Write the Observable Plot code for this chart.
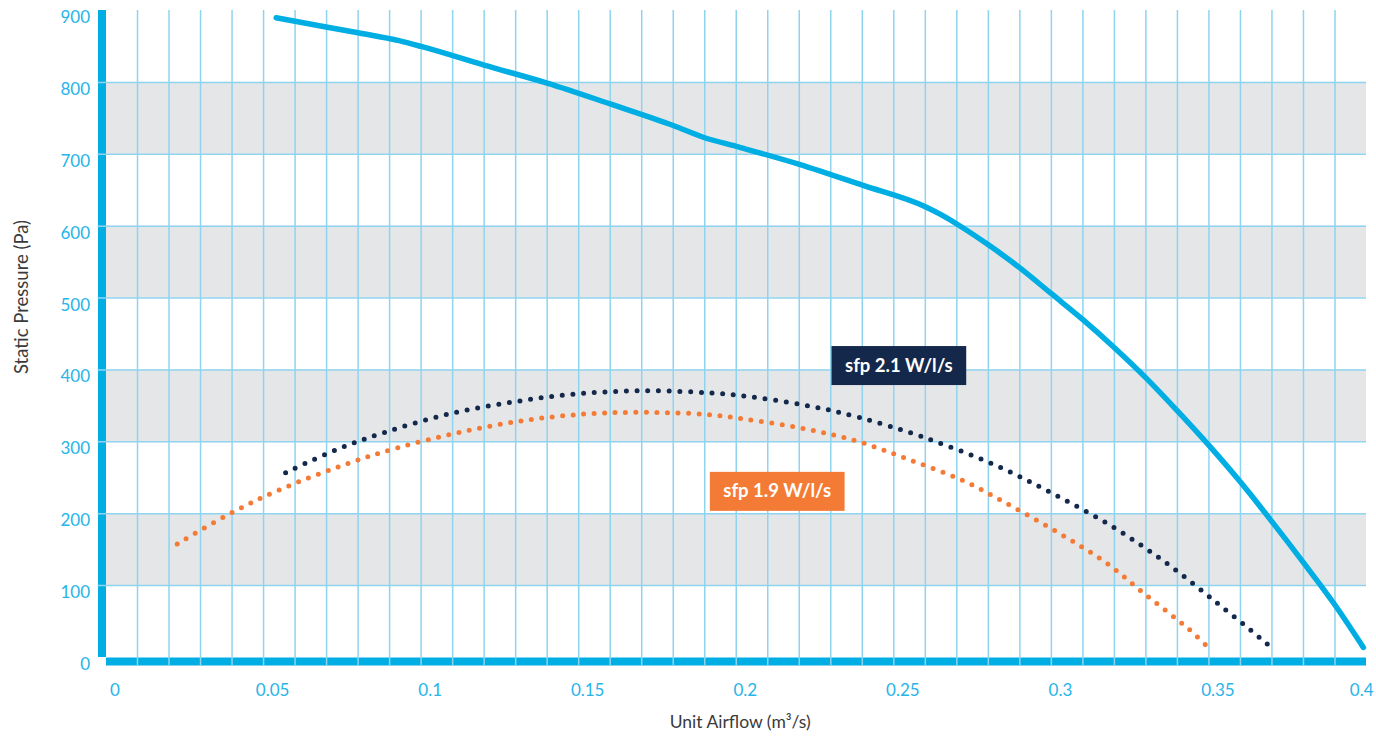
<!DOCTYPE html>
<html>
<head>
<meta charset="utf-8">
<script src="https://cdn.jsdelivr.net/npm/d3@7"></script>
<script src="https://cdn.jsdelivr.net/npm/@observablehq/plot@0.6"></script>
<style>
  html, body { margin: 0; padding: 0; background: #ffffff; }
  svg { display: block; }
</style>
</head>
<body>
<script>
// ---------- data ----------
const xTickValues = [0, 0.05, 0.1, 0.15, 0.2, 0.25, 0.3, 0.35, 0.4];
const yTickValues = [0, 100, 200, 300, 400, 500, 600, 700, 800, 900];
const xGridValues = [0.01,0.02,0.03,0.04,0.05,0.06,0.07,0.08,0.09,0.1,0.11,0.12,0.13,0.14,0.15,0.16,0.17,0.18,0.19,0.2,
                     0.21,0.22,0.23,0.24,0.25,0.26,0.27,0.28,0.29,0.3,0.31,0.32,0.33,0.34,0.35,0.36,0.37,0.38,0.39];
const yGridValues = [100, 200, 300, 400, 500, 600, 700, 800];
const shadedBandStarts = [100, 300, 500, 700];

// fan curve (static pressure vs airflow)
const fanAirflow  = [0.054,0.06,0.08,0.093,0.1,0.12,0.14,0.16,0.18,0.19,0.2,0.22,0.24,0.26,0.265,0.27,0.28,0.29,0.3,0.31,0.32,0.33,0.34,0.35,0.36,0.37,0.38,0.39,0.399];
const fanPressure = [890,885,869,858,850,824,799,770,740,723,711,686,657,627,616,603,574,542,506,470,431,389,343,295,244,189,132,73,14];

// sfp 2.1 W/l/s curve
const sfp21Airflow  = [0.057,0.073,0.089,0.109,0.13,0.15,0.171,0.192,0.202,0.223,0.239,0.259,0.282,0.3,0.319,0.336,0.352,0.366,0.37];
const sfp21Pressure = [257,289,314,339,356,367,371,368,364,350,334,307,268,229,183,133,78,28,13];

// sfp 1.9 W/l/s curve
const sfp19Airflow  = [0.0226,0.0406,0.056,0.0755,0.092,0.112,0.133,0.153,0.171,0.191,0.202,0.222,0.239,0.255,0.272,0.283,0.302,0.317,0.33,0.344,0.35];
const sfp19Pressure = [158,203,235,268,291,313,330,339,341,338,332,318,300,275,246,221,174,133,87,38,13];

const annotationTexts   = ["sfp 2.1 W/l/s", "sfp 1.9 W/l/s"];
const annotationAirflow = [0.2516, 0.213];
const annotationPress   = [406, 231];

// ---------- build tables ----------
const fan   = fanAirflow.map((x, i) => ({x, y: fanPressure[i]}));
const sfp21 = sfp21Airflow.map((x, i) => ({x, y: sfp21Pressure[i]}));
const sfp19 = sfp19Airflow.map((x, i) => ({x, y: sfp19Pressure[i]}));
const annotations = annotationTexts.map((t, i) => ({t, x: annotationAirflow[i], y: annotationPress[i]}));

const BLUE = "#00aee3";
const NAVY = "#14284b";
const ORANGE = "#f47b36";
const GRID = "#8fd4ef";
const TICK = "#27b4e8";
const BAND = "#e5e6e8";
const TITLE = "#3a3a3a";
const FONT = "Lato, 'Open Sans', sans-serif";
const boxColors = [NAVY, ORANGE];

const chart = Plot.plot({
  width: 1376,
  height: 736,
  marginLeft: 105.5,
  marginRight: 10,
  marginTop: 10,
  marginBottom: 79,
  style: {fontFamily: FONT, color: TICK, background: "#ffffff", overflow: "visible"},
  x: {domain: [0, 0.4]},
  y: {domain: [0, 900]},
  marks: [
    Plot.rect(shadedBandStarts, {y1: d => d, y2: d => d + 100, fill: BAND}),
    Plot.ruleX([0], {stroke: BLUE, strokeWidth: 8, dx: -4}),
    Plot.ruleY([0], {stroke: BLUE, strokeWidth: 8, dy: 4, insetLeft: 0.5}),
    Plot.ruleY(yGridValues, {stroke: GRID, strokeWidth: 1.5, insetLeft: -8}),
    Plot.ruleX(xGridValues, {stroke: GRID, strokeWidth: 1.5, insetBottom: -8}),
    Plot.line(sfp19, {x: "x", y: "y", stroke: ORANGE, strokeWidth: 5, strokeDasharray: "0 10.5", strokeLinecap: "round", curve: "catmull-rom"}),
    Plot.line(sfp21, {x: "x", y: "y", stroke: NAVY, strokeWidth: 5, strokeDasharray: "0 10.7", strokeLinecap: "round", curve: "catmull-rom"}),
    Plot.line(fan, {x: "x", y: "y", stroke: BLUE, strokeWidth: 5.5, strokeLinecap: "round", strokeLinejoin: "round", curve: "monotone-x"}),
    Plot.axisY(yTickValues, {tickSize: 0, tickPadding: 16, dy: 7, fontSize: 17, fill: TICK, label: null, tickFormat: d => String(d)}),
    Plot.axisX(xTickValues.slice(0, -1), {tickSize: 0, tickPadding: 26, dx: 9, fontSize: 17, fill: TICK, label: null, tickFormat: d => String(d)}),
    Plot.text(xTickValues.slice(-1), {x: d => d, text: d => String(d), frameAnchor: "bottom", lineAnchor: "top", textAnchor: "end", dy: 26, dx: 7, fontSize: 17, fill: TICK}),
    Plot.text(["Static Pressure (Pa)"], {frameAnchor: "left", textAnchor: "middle", lineAnchor: "middle", rotate: -90, dx: -84, dy: -37, fontSize: 18.5, fill: TITLE}),
    Plot.text(["Unit Airflow (m³/s)"], {frameAnchor: "bottom", textAnchor: "middle", lineAnchor: "middle", dx: 4, dy: 65, fontSize: 17.5, fill: TITLE}),
    Plot.text(annotations, {x: "x", y: "y", text: "t", fill: "#ffffff", fontSize: 18.5, fontWeight: "bold"})
  ]
});

document.body.append(chart);

// backing boxes for the sfp labels
const svgNS = "http://www.w3.org/2000/svg";
chart.querySelectorAll("text").forEach(t => {
  const i = annotationTexts.indexOf(t.textContent);
  if (i < 0) return;
  const b = t.getBBox();
  const w = b.width + 27, h = 39;
  const r = document.createElementNS(svgNS, "rect");
  r.setAttribute("x", b.x + b.width / 2 - w / 2);
  r.setAttribute("y", b.y + b.height / 2 - h / 2 + 1);
  r.setAttribute("width", w);
  r.setAttribute("height", h);
  r.setAttribute("fill", boxColors[i]);
  if (t.getAttribute("transform")) r.setAttribute("transform", t.getAttribute("transform"));
  t.parentNode.insertBefore(r, t);
});
</script>
</body>
</html>
